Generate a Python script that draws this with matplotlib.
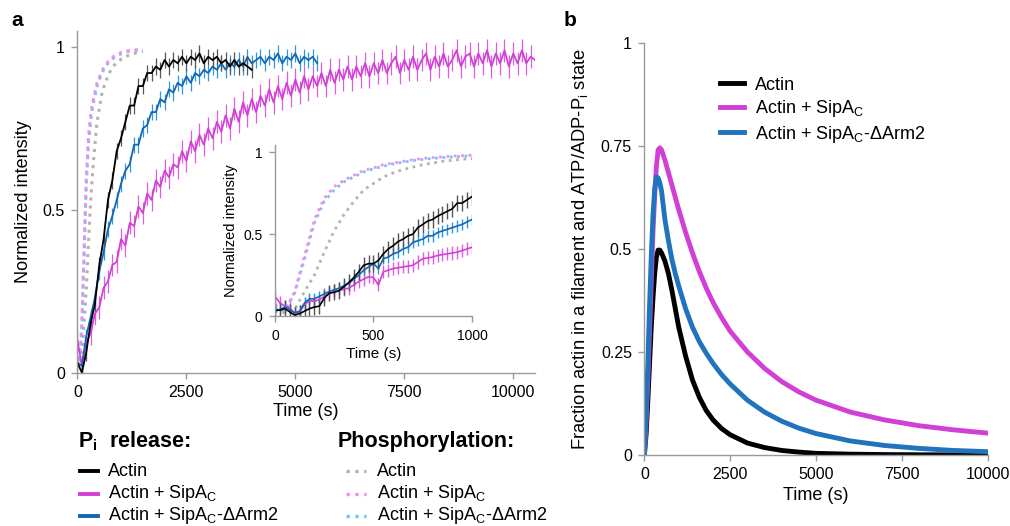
import numpy as np
import matplotlib
matplotlib.use('Agg')
import matplotlib.pyplot as plt
from matplotlib.lines import Line2D

plt.rcParams['font.family'] = ['Liberation Sans', 'DejaVu Sans']
plt.rcParams['mathtext.fontset'] = 'custom'
plt.rcParams['mathtext.rm'] = 'Liberation Sans'
plt.rcParams['mathtext.bf'] = 'Liberation Sans:bold'

# ---- panel a, Pi release (main plot, one point every 100 s) ----
pi_actin = [0.03, 0.00, 0.06, 0.15, 0.21, 0.33, 0.41, 0.53, 0.59, 0.68,
            0.72, 0.77, 0.82, 0.82, 0.88, 0.88, 0.92, 0.92, 0.94, 0.93,
            0.96, 0.94, 0.96, 0.95, 0.97, 0.95, 0.97, 0.96, 0.98, 0.95,
            0.97, 0.96, 0.97, 0.95, 0.96, 0.94, 0.96, 0.94, 0.95, 0.94,
            0.93]
pi_sipa = [0.10, 0.02, 0.09, 0.12, 0.18, 0.20, 0.26, 0.28, 0.33, 0.34,
           0.41, 0.39, 0.46, 0.45, 0.51, 0.49, 0.55, 0.53, 0.59, 0.57,
           0.62, 0.60, 0.64, 0.63, 0.68, 0.65, 0.71, 0.68, 0.73, 0.70,
           0.75, 0.72, 0.77, 0.74, 0.79, 0.75, 0.81, 0.77, 0.83, 0.79,
           0.84, 0.80, 0.85, 0.82, 0.87, 0.83, 0.88, 0.84, 0.89, 0.85,
           0.90, 0.86, 0.91, 0.87, 0.91, 0.88, 0.92, 0.88, 0.93, 0.89,
           0.93, 0.90, 0.94, 0.90, 0.94, 0.91, 0.95, 0.91, 0.95, 0.92,
           0.96, 0.92, 0.95, 0.97, 0.92, 0.96, 0.93, 0.97, 0.93, 0.96,
           0.98, 0.93, 0.97, 0.94, 0.98, 0.94, 0.96, 0.99, 0.94, 0.97,
           0.98, 0.94, 0.98, 0.95, 0.99, 0.94, 0.98, 0.95, 0.99, 0.94,
           0.98, 0.95, 0.99, 0.95, 0.97, 0.96]
pi_arm2 = [0.03, 0.02, 0.11, 0.17, 0.23, 0.31, 0.37, 0.44, 0.48, 0.53,
           0.58, 0.62, 0.64, 0.70, 0.70, 0.75, 0.76, 0.80, 0.80, 0.84,
           0.83, 0.87, 0.86, 0.89, 0.88, 0.91, 0.89, 0.92, 0.91, 0.93,
           0.92, 0.94, 0.93, 0.95, 0.93, 0.95, 0.94, 0.96, 0.94, 0.97,
           0.95, 0.96, 0.97, 0.95, 0.97, 0.96, 0.98, 0.95, 0.97, 0.96,
           0.98, 0.95, 0.97, 0.96, 0.97, 0.95]
pi_err = {'actin': 0.025, 'sipa': 0.035, 'arm2': 0.025}

# ---- panel a, phosphorylation (one point every 50 s) ----
ph_actin = [0.03, 0.02, 0.04, 0.15, 0.25, 0.39, 0.52, 0.62, 0.70, 0.77,
            0.81, 0.85, 0.875, 0.895, 0.91, 0.925, 0.935, 0.945, 0.952, 0.958,
            0.962, 0.966, 0.97, 0.973, 0.976, 0.978, 0.98, 0.982, 0.984, 0.985,
            0.986]
ph_sipa = [0.07, 0.03, 0.15, 0.37, 0.59, 0.72, 0.79, 0.83, 0.86, 0.89,
           0.905, 0.925, 0.935, 0.945, 0.955, 0.963, 0.968, 0.973, 0.977, 0.98,
           0.983, 0.985, 0.987, 0.988, 0.989, 0.99, 0.99, 0.991, 0.991, 0.992,
           0.992]
ph_arm2 = [0.05, 0.03, 0.14, 0.35, 0.57, 0.70, 0.77, 0.82, 0.85, 0.88,
           0.90, 0.915, 0.93, 0.94, 0.95, 0.957, 0.963, 0.968, 0.972, 0.976,
           0.979, 0.982, 0.984, 0.986, 0.987, 0.988, 0.989, 0.99, 0.99, 0.991,
           0.991]

# ---- inset, Pi release first 1000 s (one point every 25 s) ----
in_actin = [0.035, 0.036, 0.045, 0.025, 0.005, 0.015, 0.03, 0.045, 0.055, 0.06,
            0.11, 0.14, 0.145, 0.155, 0.18, 0.205, 0.235, 0.27, 0.31, 0.32,
            0.32, 0.34, 0.38, 0.41, 0.43, 0.455, 0.47, 0.49, 0.50, 0.54,
            0.56, 0.58, 0.59, 0.61, 0.625, 0.64, 0.655, 0.69, 0.69, 0.71,
            0.73]
in_sipa = [0.12, 0.08, 0.06, 0.05, 0.015, 0.025, 0.07, 0.095, 0.09, 0.10,
           0.12, 0.135, 0.15, 0.155, 0.165, 0.17, 0.19, 0.21, 0.225, 0.24,
           0.235, 0.19, 0.27, 0.28, 0.29, 0.295, 0.30, 0.305, 0.31, 0.33,
           0.35, 0.355, 0.36, 0.37, 0.375, 0.38, 0.385, 0.39, 0.40, 0.41,
           0.42]
in_arm2 = [0.03, 0.04, 0.055, 0.04, 0.02, 0.03, 0.08, 0.105, 0.105, 0.12,
           0.135, 0.15, 0.16, 0.17, 0.185, 0.20, 0.225, 0.25, 0.28, 0.30,
           0.32, 0.29, 0.35, 0.36, 0.38, 0.39, 0.41, 0.42, 0.45, 0.46,
           0.47, 0.49, 0.49, 0.51, 0.52, 0.53, 0.54, 0.55, 0.56, 0.575,
           0.59]
in_err = {'actin': 0.05, 'sipa': 0.04, 'arm2': 0.035}

# ---- panel b, model ----
b_time = [0, 50, 100, 150, 200, 250, 300, 350, 400, 450, 500, 600, 700, 800, 900,
          1000, 1200, 1400, 1600, 1800, 2000, 2250, 2500, 3000, 3500, 4000, 4500,
          5000, 6000, 7000, 8000, 9000, 10000]
b_actin = [0, 0.05, 0.13, 0.22, 0.31, 0.38, 0.44, 0.48, 0.497, 0.497, 0.49, 0.47,
           0.44, 0.40, 0.355, 0.31, 0.24, 0.182, 0.14, 0.108, 0.085, 0.064, 0.049,
           0.029, 0.018, 0.011, 0.007, 0.004, 0.002, 0.001, 0.0005, 0.0002, 0.0]
b_sipa = [0, 0.08, 0.18, 0.30, 0.42, 0.54, 0.63, 0.70, 0.74, 0.745, 0.74, 0.715,
          0.685, 0.655, 0.625, 0.595, 0.54, 0.49, 0.445, 0.405, 0.37, 0.333, 0.30,
          0.25, 0.21, 0.178, 0.153, 0.133, 0.104, 0.085, 0.071, 0.061, 0.053]
b_arm2 = [0, 0.10, 0.22, 0.36, 0.48, 0.58, 0.645, 0.675, 0.672, 0.66, 0.64, 0.57,
          0.52, 0.475, 0.44, 0.41, 0.355, 0.31, 0.275, 0.247, 0.222, 0.195, 0.172,
          0.133, 0.104, 0.082, 0.065, 0.052, 0.034, 0.023, 0.016, 0.011, 0.008]

labels = ['Actin', 'Actin + SipA$_\\mathrm{C}$', 'Actin + SipA$_\\mathrm{C}$-\u0394Arm2']

BLACK = '#000000'
MAG = '#d23fd6'
MAG_E = '#e05ce3'
BLUE = '#1565b0'
BLUE_E = '#2a98e6'
GRAY_E = '#555555'
PH_GRAY = '#b3b3b3'
PH_PINK = '#f58df0'
PH_LBLUE = '#72c5f4'
AXC = '#9a9a9a'


def style_axes(ax, fs):
    for s in ['top', 'right']:
        ax.spines[s].set_visible(False)
    for s in ['left', 'bottom']:
        ax.spines[s].set_color(AXC)
        ax.spines[s].set_linewidth(1.0)
    ax.tick_params(color=AXC, length=4, width=1, labelsize=fs, pad=5)


def fpos(x, y):
    return x / 1010, 1 - y / 526


fig = plt.figure(figsize=(10.1, 5.26), dpi=100)

# ---------------- panel a main ----------------
ax = fig.add_axes([0.0767, 0.2918, 0.453, 0.6498])
t_pi_a = np.arange(len(pi_actin)) * 100
t_pi_s = np.arange(len(pi_sipa)) * 100
t_pi_r = np.arange(len(pi_arm2)) * 100
t_ph = np.arange(len(ph_actin)) * 50

ax.plot(t_ph, ph_actin, color=PH_GRAY, lw=2.2, ls=':')
ax.plot(t_ph, ph_arm2, color=PH_LBLUE, lw=2.2, ls=':')
ax.plot(t_ph, ph_sipa, color=PH_PINK, lw=2.2, ls=':')
ax.errorbar(t_pi_s, pi_sipa, yerr=pi_err['sipa'], color=MAG, ecolor=MAG_E, lw=1.3, elinewidth=0.9)
ax.errorbar(t_pi_r, pi_arm2, yerr=pi_err['arm2'], color=BLUE, ecolor=BLUE_E, lw=1.3, elinewidth=0.9)
ax.errorbar(t_pi_a, pi_actin, yerr=pi_err['actin'], color=BLACK, ecolor=GRAY_E, lw=1.3, elinewidth=0.9)

ax.set_xlim(0, 10500)
ax.set_ylim(0, 1.05)
ax.set_xticks([0, 2500, 5000, 7500, 10000])
ax.set_xticklabels(['0', '2500', '5000', '7500', '10000'])
ax.set_yticks([0, 0.5, 1])
ax.set_yticklabels(['0', '0.5', '1'])
style_axes(ax, 11.5)
ax.set_xlabel('Time (s)', fontsize=13, labelpad=2)
ax.set_ylabel('Normalized intensity', fontsize=13, labelpad=8)

# ---------------- inset ----------------
axi = fig.add_axes([0.2723, 0.3992, 0.195, 0.3251])
t_in = np.arange(len(in_actin)) * 25
axi.plot(t_ph, ph_actin, color=PH_GRAY, lw=2.0, ls=':')
axi.plot(t_ph, ph_arm2, color=PH_LBLUE, lw=2.0, ls=':')
axi.plot(t_ph, ph_sipa, color=PH_PINK, lw=2.0, ls=':')
axi.errorbar(t_in, in_sipa, yerr=in_err['sipa'], color=MAG, ecolor=MAG_E, lw=1.2, elinewidth=1)
axi.errorbar(t_in, in_arm2, yerr=in_err['arm2'], color=BLUE, ecolor=BLUE_E, lw=1.2, elinewidth=1)
axi.errorbar(t_in, in_actin, yerr=in_err['actin'], color=BLACK, ecolor=GRAY_E, lw=1.2, elinewidth=1)
axi.set_xlim(0, 1000)
axi.set_ylim(0, 1.045)
axi.set_xticks([0, 500, 1000])
axi.set_xticklabels(['0', '500', '1000'])
axi.set_yticks([0, 0.5, 1])
axi.set_yticklabels(['0', '0.5', '1'])
axi.patch.set_alpha(0)
style_axes(axi, 10)
axi.set_xlabel('Time (s)', fontsize=11, labelpad=3)
axi.set_ylabel('Normalized intensity', fontsize=10.5, labelpad=4)

# ---------------- legend under panel a ----------------
fig.text(*fpos(78, 441), 'P$_\\mathbf{i}$  release:', fontsize=15.5, fontweight='bold', va='center')
fig.text(*fpos(338, 441), 'Phosphorylation:', fontsize=15.5, fontweight='bold', va='center')
rows_y = [471, 494, 516]
for y, lab, c, pc in zip(rows_y, labels, [BLACK, MAG, BLUE], [PH_GRAY, PH_PINK, PH_LBLUE]):
    x0, yy = fpos(80, y)
    x1, _ = fpos(98, y)
    fig.add_artist(Line2D([x0, x1], [yy, yy], color=c, lw=2.8, transform=fig.transFigure))
    fig.text(*fpos(108, y), lab, fontsize=13, va='center')
    x0, _ = fpos(346, y)
    x1, _ = fpos(366, y)
    fig.add_artist(Line2D([x0, x1], [yy, yy], color=pc, lw=2.4, ls=':', transform=fig.transFigure))
    fig.text(*fpos(377, y), lab, fontsize=13, va='center')

# ---------------- panel b ----------------
axb = fig.add_axes([0.638, 0.135, 0.340, 0.7838])
axb.plot(b_time, b_actin, color=BLACK, lw=3.5, label=labels[0])
axb.plot(b_time, b_sipa, color=MAG, lw=3.5, label=labels[1])
axb.plot(b_time, b_arm2, color='#1f74bd', lw=3.5, label=labels[2])
axb.set_xlim(0, 10000)
axb.set_ylim(0, 1)
axb.set_xticks([0, 2500, 5000, 7500, 10000])
axb.set_xticklabels(['0', '2500', '5000', '7500', '10000'])
axb.set_yticks([0, 0.25, 0.5, 0.75, 1])
axb.set_yticklabels(['0', '0.25', '0.5', '0.75', '1'])
style_axes(axb, 11.5)
axb.set_xlabel('Time (s)', fontsize=13, labelpad=3)
axb.set_ylabel('Fraction actin in a filament and ATP/ADP-P$_\\mathrm{i}$ state', fontsize=13.2, labelpad=8)
axb.legend(loc='upper left', bbox_to_anchor=(0.2, 0.935), frameon=False, fontsize=13,
           handlelength=1.3, handletextpad=0.6, labelspacing=0.25, borderaxespad=0)

fig.text(*fpos(17, 20), 'a', fontsize=15, fontweight='bold', va='center', ha='center')
fig.text(*fpos(570, 20), 'b', fontsize=15, fontweight='bold', va='center', ha='center')

fig.savefig('out.png', dpi=100)
